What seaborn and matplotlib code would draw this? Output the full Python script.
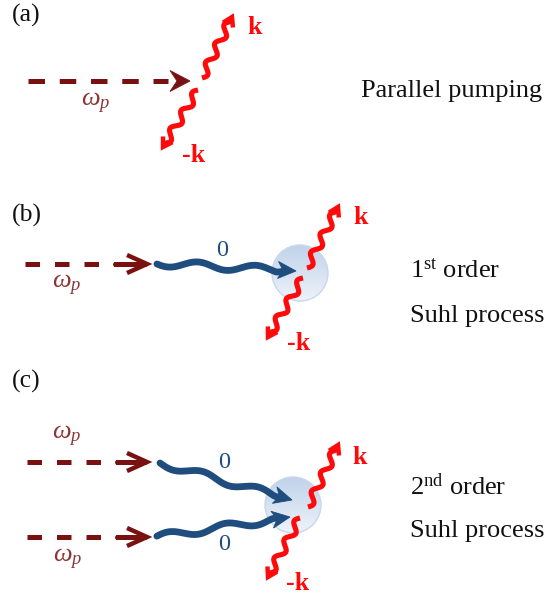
import numpy as np
import matplotlib
matplotlib.use("Agg")
import matplotlib.pyplot as plt
import seaborn as sns
from matplotlib.patches import Circle, Polygon
from matplotlib.colors import LinearSegmentedColormap

# ---------------------------------------------------------------------------
# Diagram content (pixel coordinates, y pointing down)
# ---------------------------------------------------------------------------
panel_tags = ["(a)", "(b)", "(c)"]
panel_tag_base = [22, 222, 388]

# pump photons (dashed arrows)
pump_y = [81, 264, 462, 537]
pump_x0 = [28, 25, 27, 27]
pump_tip_x = [190, 147, 147, 147]
pump_head = ["solid", "open", "open", "open"]
omega_xy = [(96, 103), (67, 285), (67, 436), (68, 559)]

# uniform (k = 0) magnons
magnon_start = [(157, 263), (160, 463), (157, 537)]
magnon_tip = [(296, 271), (292, 500), (290, 517)]
zero_xy = [(222, 250), (224, 463), (224, 545)]

# scattering centres
centre_xy = [(300, 273), (293, 505)]
centre_r = 28

# +k / -k magnon pairs
kplus_start = [(202, 78), (307, 268), (308, 507)]
kplus_tip = [(232, 17), (338, 207), (338, 445)]
kminus_start = [(198, 90), (303, 278), (300, 518)]
kminus_tip = [(163, 147), (268, 337), (268, 577)]
kplus_label_xy = [(255, 28), (361, 218), (360, 457)]
kminus_label_xy = [(194, 156), (299, 343), (298, 583)]

# process names
process_text = ["Parallel pumping",
                r"1$^{\mathregular{st}}$ order", "Suhl process",
                r"2$^{\mathregular{nd}}$ order", "Suhl process"]
process_x = [361, 410, 410, 410, 410]
process_base = [97, 278, 322, 495, 537]

PUMP_C = "#7a1111"
OMEGA_C = "#8e3434"
MAGNON_C = "#1f4d7d"
K_C = "#ff0a0a"
SERIF = "Liberation Serif"

# ---------------------------------------------------------------------------
sns.set_theme(style="white")
plt.rcParams["font.family"] = [SERIF, "DejaVu Serif"]
plt.rcParams["mathtext.fontset"] = "custom"
plt.rcParams["mathtext.rm"] = SERIF
plt.rcParams["mathtext.it"] = SERIF + ":italic"
plt.rcParams["mathtext.bf"] = SERIF + ":bold"

fig = plt.figure(figsize=(5.48, 5.96), dpi=100)
ax = fig.add_axes([0, 0, 1, 1])


def unit(p0, p1):
    d = np.asarray(p1, float) - np.asarray(p0, float)
    L = np.hypot(*d)
    u = d / L
    return u, np.array([-u[1], u[0]]), L


def wave(p0, p1, amp, wavelength, stop, fade=8.0, phase=0.0):
    """Sine-modulated path from p0 towards p1, ending `stop` px short of p1."""
    u, n, L = unit(p0, p1)
    s = np.linspace(0, L - stop, 300)
    env = np.clip((L - stop - s) / fade, 0, 1)
    off = amp * np.sin(2 * np.pi * s / wavelength + phase) * env
    return np.asarray(p0, float) + np.outer(s, u) + np.outer(off, n)


def line(pts, color, lw, z=3, **kw):
    sns.lineplot(x=pts[:, 0], y=pts[:, 1], sort=False, estimator=None,
                 color=color, linewidth=lw, ax=ax, zorder=z, **kw)


def stealth(tip, u, length, half_w, notch, color, z=4):
    tip = np.asarray(tip, float)
    n = np.array([-u[1], u[0]])
    back = tip - length * u
    pts = [tip, back + half_w * n, tip - (length - notch) * u, back - half_w * n]
    ax.add_patch(Polygon(pts, closed=True, fc=color, ec=color, lw=0.6, zorder=z))


def chevron(tip, u, length, half_w, color, lw, z=4):
    tip = np.asarray(tip, float)
    n = np.array([-u[1], u[0]])
    back = tip - length * u
    pts = np.array([back + half_w * n, tip, back - half_w * n])
    ax.plot(pts[:, 0], pts[:, 1], color=color, lw=lw, zorder=z,
            solid_joinstyle="miter", solid_capstyle="butt")


# panel tags
for tag, yb in zip(panel_tags, panel_tag_base):
    ax.text(12, yb, tag, family=SERIF, fontsize=18.5, color="#111111",
            va="baseline", ha="left")

# scattering centres with a soft vertical gradient
cmap = LinearSegmentedColormap.from_list("blob", ["#c0d2ea", "#eef3fa"])
grad = np.linspace(0, 1, 256).reshape(-1, 1)
for (cx, cy) in centre_xy:
    circ = Circle((cx, cy), centre_r, fc="none", ec="#c8d7eb", lw=1.0, zorder=2)
    ax.add_patch(circ)
    im = ax.imshow(grad, cmap=cmap, extent=(cx - centre_r, cx + centre_r,
                                            cy + centre_r, cy - centre_r),
                   origin="upper", aspect="auto", zorder=1.5)
    im.set_clip_path(circ)

# pump photons
DASH_LW = 3.6
for y, x0, xt, head in zip(pump_y, pump_x0, pump_tip_x, pump_head):
    if head == "solid":
        shaft = np.array([[x0, y], [xt - 22, y]])
        line(shaft, PUMP_C, DASH_LW, linestyle=(0, (3.3, 2.95)),
             dash_capstyle="butt")
        stealth((xt, y), np.array([1.0, 0.0]), 20, 10.5, 7, PUMP_C)
    else:
        shaft = np.array([[x0, y], [x0 + 90, y]])
        line(shaft, PUMP_C, DASH_LW, linestyle=(0, (2.9, 3.0)),
             dash_capstyle="butt")
        line(np.array([[x0 + 90, y], [xt - 2, y]]), PUMP_C, DASH_LW)
        chevron((xt, y), np.array([1.0, 0.0]), 20, 9, PUMP_C, 3.2)

for (x, y) in omega_xy:
    ax.text(x, y, r"$\omega_p$", fontsize=19, color=OMEGA_C,
            ha="center", va="center")

# k = 0 magnons
for p0, p1, phase in zip(magnon_start, magnon_tip, [0.3, 0.0, 3.4]):
    u, n, L = unit(p0, p1)
    pts = wave(p0, p1, 3.4, 58, 10, fade=10, phase=phase)
    line(pts, MAGNON_C, 4.9, z=3, solid_capstyle="round")
    stealth(p1, u, 18, 8.5, 5, MAGNON_C)

for (x, y) in zero_xy:
    ax.text(x, y, "0", family=SERIF, fontsize=17.5, color=MAGNON_C,
            ha="center", va="center")

# +k / -k magnon pairs
for starts, tips in ((kplus_start, kplus_tip), (kminus_start, kminus_tip)):
    for p0, p1 in zip(starts, tips):
        u, n, L = unit(p0, p1)
        pts = wave(p0, p1, 3.8, 21, 2, fade=6)
        line(pts, K_C, 3.7, z=5, solid_capstyle="butt")
        chevron(p1, u, 9, 5.5, K_C, 3.2, z=5)

for (x, y) in kplus_label_xy:
    ax.text(x, y, "k", family=SERIF, fontsize=18.5, fontweight="bold",
            color=K_C, ha="center", va="center")
for (x, y) in kminus_label_xy:
    ax.text(x, y, "-k", family=SERIF, fontsize=18.5, fontweight="bold",
            color=K_C, ha="center", va="center")

# process names
for txt, x, yb in zip(process_text, process_x, process_base):
    ax.text(x, yb, txt, family=SERIF, fontsize=19, color="#111111",
            ha="left", va="baseline")

ax.set_xlim(0, 548)
ax.set_ylim(596, 0)
ax.axis("off")
fig.savefig("out.png", dpi=100, facecolor="white")
